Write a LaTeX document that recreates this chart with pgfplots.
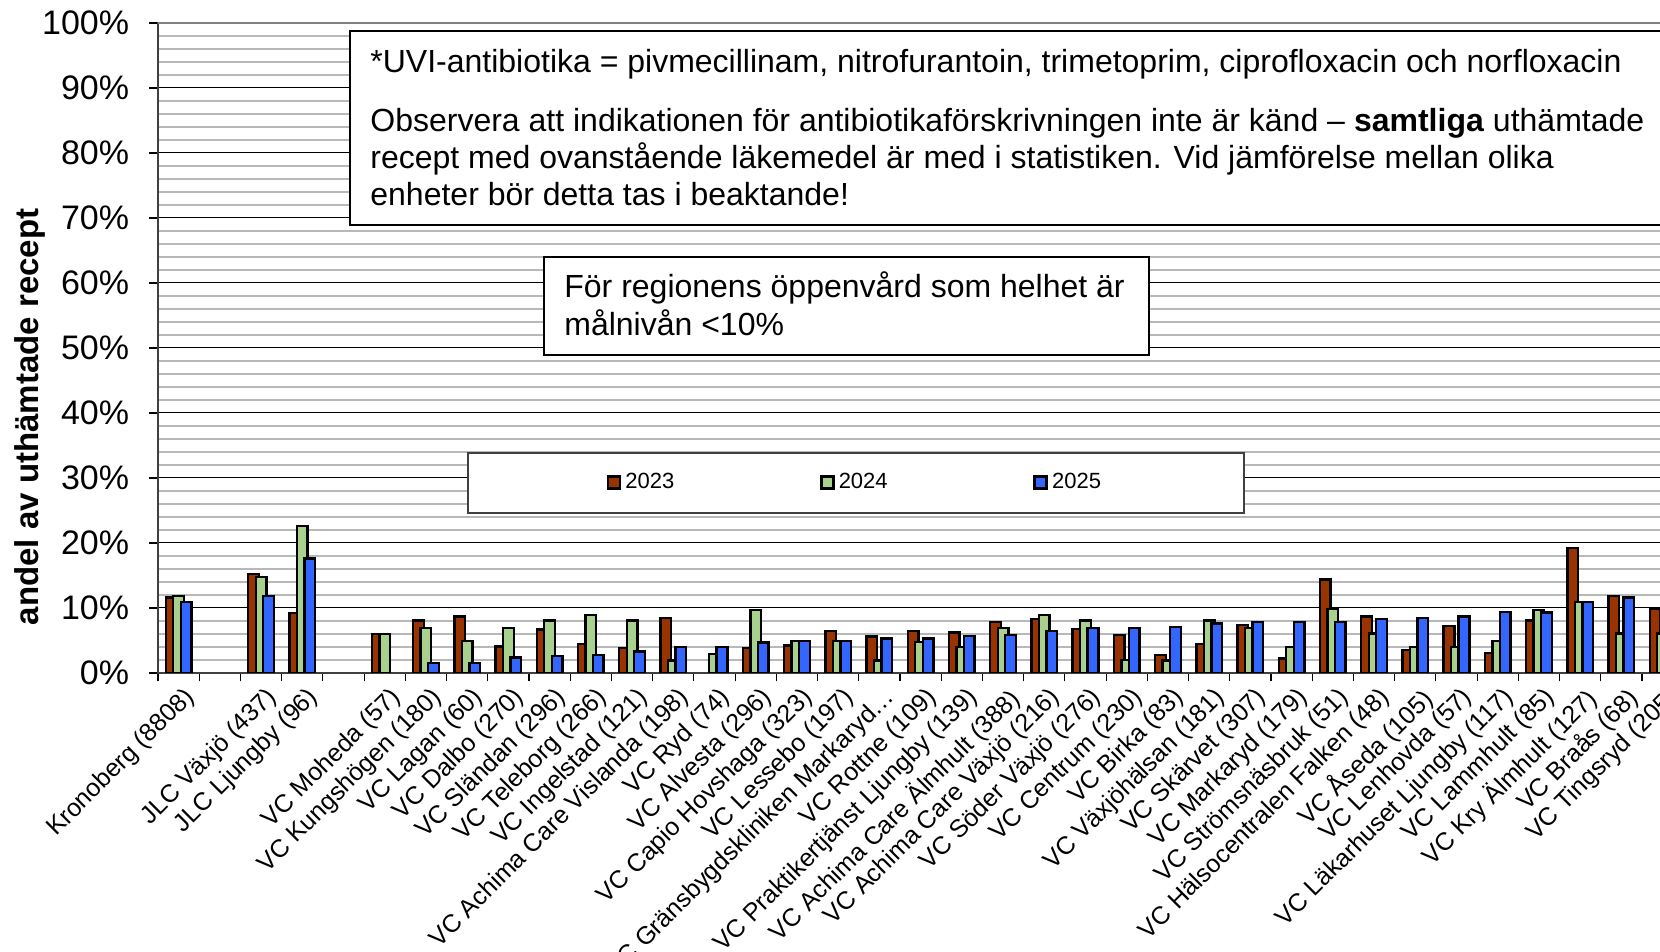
\documentclass[border=0pt]{standalone}
\usepackage{fontspec}
\setmainfont{Liberation Sans}
\usepackage{pgfplots}
\pgfplotsset{compat=1.18}
\usepackage{pgfplotstable}

\definecolor{c23}{HTML}{993300}
\definecolor{c24}{HTML}{A9D18E}
\definecolor{c25}{HTML}{3366FF}

% index 2023 2024 2025  (categories 1 and 4 are empty)
\pgfplotstableread{
x a
0 11.6
2 15.2
3 9.2
5 6.0
6 8.05
7 8.7
8 4.05
9 6.7
10 4.45
11 3.85
12 8.5
14 3.85
15 4.25
16 6.5
17 5.6
18 6.5
19 6.25
20 7.85
21 8.3
22 6.8
23 5.8
24 2.8
25 4.5
26 7.4
27 2.2
28 14.4
29 8.7
30 3.5
31 7.2
32 3.1
33 8.05
34 19.2
35 11.8
36 9.85
}\dataA
\pgfplotstableread{
x a
0 11.8
2 14.8
3 22.6
5 6.0
6 6.9
7 4.9
8 6.9
9 8.05
10 8.9
11 8.05
12 1.9
13 2.9
14 9.7
15 4.9
16 4.9
17 1.95
18 4.8
19 4.0
20 6.9
21 8.9
22 8.05
23 2.0
24 1.9
25 8.05
26 6.9
27 4.0
28 9.85
29 6.05
30 4.0
31 4.0
32 4.9
33 9.7
34 10.9
35 6.05
36 6.05
}\dataB
\pgfplotstableread{
x a
0 10.9
2 11.8
3 17.6
6 1.5
7 1.5
8 2.4
9 2.65
10 2.8
11 3.3
12 4.0
13 4.0
14 4.7
15 4.9
16 4.9
17 5.3
18 5.3
19 5.7
20 5.8
21 6.5
22 6.9
23 6.9
24 7.1
25 7.6
26 7.8
27 7.8
28 7.8
29 8.3
30 8.5
31 8.7
32 9.4
33 9.3
34 10.9
35 11.6
36 9.0
}\dataC

\begin{document}
\begin{tikzpicture}
\useasboundingbox (-79pt,-139.5pt) rectangle (751pt,336.5pt);
\clip (-79pt,-139.5pt) rectangle (751pt,336.5pt);
\begin{axis}[
  at={(0pt,0pt)}, anchor=south west,
  scale only axis, width=762.6pt, height=325pt,
  xmin=-0.5, xmax=36.5, ymin=0, ymax=100,
  enlargelimits=false,
  ybar=-1.6pt, bar width=5.35pt,
  xtick={-0.5,0.5,...,36.5},
  x tick label as interval,
  xticklabels={Kronoberg (8808),{},JLC Växjö (437),JLC Ljungby (96),{},VC Moheda (57),VC Kungshögen (180),VC Lagan (60),VC Dalbo (270),VC Sländan (296),VC Teleborg (266),VC Ingelstad (121),VC Achima Care Vislanda (198),VC Ryd (74),VC Alvesta (296),VC Capio Hovshaga (323),VC Lessebo (197),VC Gränsbygdskliniken Markaryd…,VC Rottne (109),VC Praktikertjänst Ljungby (139),VC Achima Care Älmhult (388),VC Achima Care Växjö (216),VC Söder Växjö (276),VC Centrum (230),VC Birka (83),VC Växjöhälsan (181),VC Skärvet (307),VC Markaryd (179),VC Strömsnäsbruk (51),VC Hälsocentralen Falken (48),VC Åseda (105),VC Lenhovda (57),VC Läkarhuset Ljungby (117),VC Lammhult (85),VC Kry Älmhult (127),VC Braås (68),VC Tingsryd (205)},
  xticklabel style={rotate=45, anchor=north east, inner sep=0pt, yshift=-2.5pt, font=\fontsize{12.5}{15}\selectfont},
  ytick={0,10,...,100},
  yticklabels={0\%,10\%,20\%,30\%,40\%,50\%,60\%,70\%,80\%,90\%,100\%},
  yticklabel style={anchor=east, inner sep=0pt, xshift=-10pt, font=\fontsize{17}{20}\selectfont},
  /pgf/number format/assume math mode=true,
  minor y tick num=4,
  minor tick length=0pt, major tick length=4.25pt,
  tick align=outside,
  xtick pos=bottom, ytick pos=left,
  tick style={black, line width=0.6pt},
  ymajorgrids, yminorgrids,
  major grid style={black, line width=0.5pt},
  minor grid style={black!28, line width=0.8pt},
  axis line style={black!75, line width=0.8pt},
  every axis y label/.style={at={(rel axis cs:0,0.394)}, xshift=-64pt, rotate=90, anchor=center},
  ylabel={\fontsize{16.5}{19}\selectfont\bfseries andel av uthämtade recept},
  legend style={at={(rel axis cs:0.2026,0.34)}, anchor=north west, draw=black!75, line width=0.8pt,
    font=\fontsize{11}{13}\selectfont, legend columns=3,
    inner xsep=69.5pt, inner ysep=8.4pt,
    /tikz/every even column/.append style={column sep=70.9pt}},
  legend image code/.code={\draw[#1, line width=1.3pt] (0pt,-3pt) rectangle (6pt,3pt);},
]
\addplot[fill=c23, draw=black, line width=1.2pt] table[x=x,y=a]{\dataA};
\addplot[fill=c24, draw=black, line width=1.2pt] table[x=x,y=a]{\dataB};
\addplot[fill=c25, draw=black, line width=1.2pt] table[x=x,y=a]{\dataC};
\legend{2023,2024,2025}
\end{axis}
% top border of the plot area (grey)
\draw[black!50, line width=1pt] (0pt,325pt) -- (770pt,325pt);
% text box 1 (runs past the right edge)
\draw[black, line width=1pt, fill=white] (96pt,223.75pt) rectangle (790pt,321pt);
\begin{scope}[every node/.style={anchor=base west, inner sep=0pt, font=\fontsize{16}{19}\selectfont}]
\node at (106pt,300.25pt) {*UVI-antibiotika = pivmecillinam, nitrofurantoin, trimetoprim, ciprofloxacin och norfloxacin};
\node at (106pt,270.75pt) {Observera att indikationen för antibiotikaförskrivningen inte är känd – \textbf{samtliga} uthämtade};
\node at (106pt,252.25pt) {recept med ovanstående läkemedel är med i statistiken. Vid jämförelse mellan olika};
\node at (106pt,233.75pt) {enheter bör detta tas i beaktande!};
\end{scope}
% text box 2
\draw[black, line width=1pt, fill=white] (193pt,159pt) rectangle (495.5pt,208pt);
\begin{scope}[every node/.style={anchor=base west, inner sep=0pt, font=\fontsize{16}{19}\selectfont}]
\node at (203pt,187.5pt) {För regionens öppenvård som helhet är};
\node at (203pt,168.7pt) {målnivån <10\%};
\end{scope}
\end{tikzpicture}
\end{document}
